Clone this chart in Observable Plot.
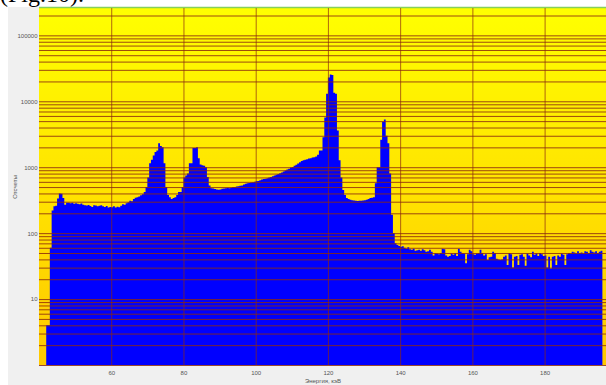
<!DOCTYPE html>
<html>
<head>
<meta charset="utf-8">
<script src="https://cdn.jsdelivr.net/npm/d3@7"></script>
<script src="https://cdn.jsdelivr.net/npm/@observablehq/plot@0.6"></script>
<style>
  html, body { margin: 0; padding: 0; background: #ffffff; width: 606px; height: 385px; overflow: hidden; position: relative; }
  #fig { position: absolute; left: 0; top: -18px; font-family: "Liberation Serif", "Times New Roman", serif; font-size: 24px; line-height: 24px; color: #000; white-space: nowrap; }
  #panel { position: absolute; left: 8px; top: 7px; right: 0; bottom: 0; background: #f0f0f0; }
  #chart { position: absolute; left: 0; top: 0; }
</style>
</head>
<body>
<div id="fig">(Fig.10).</div>
<div id="panel"></div>
<div id="chart"></div>
<script>
// Spectrum: counts per 0.5 keV channel, first channel starts at 42.0 keV
const binStart = 42.0;
const binWidth = 0.5;
const counts = [
  4, 4, 60, 220, 255, 260, 335, 400, 395, 340, 270, 290, 290, 285, 290, 280,
  285, 280, 275, 282, 270, 265, 262, 268, 258, 250, 265, 262, 255, 260, 265, 255,
  250, 258, 245, 250, 248, 255, 245, 252, 248, 260, 275, 270, 285, 295, 310, 305,
  330, 345, 350, 360, 375, 390, 420, 500, 700, 1150, 1300, 1500, 1700, 1800, 2300, 2100,
  2000, 1150, 500, 380, 350, 330, 340, 350, 380, 420, 420, 500, 700, 750, 800, 1150,
  1150, 1950, 1950, 2000, 1370, 1100, 1070, 1050, 1000, 710, 530, 480, 475, 468, 460, 455,
  460, 470, 475, 480, 485, 480, 490, 500, 500, 510, 515, 525, 530, 545, 560, 570,
  575, 585, 590, 600, 610, 620, 635, 650, 660, 670, 680, 700, 710, 730, 750, 770,
  790, 810, 830, 860, 890, 920, 950, 990, 1010, 1050, 1090, 1140, 1190, 1240, 1270, 1300,
  1320, 1350, 1370, 1400, 1420, 1460, 1550, 1800, 1800, 2850, 5700, 13000, 23000, 25500, 25000, 13500,
  13000, 3600, 1270, 700, 450, 380, 340, 330, 320, 315, 312, 310, 308, 310, 310, 312,
  315, 320, 330, 340, 345, 350, 570, 1000, 1000, 2600, 4900, 5300, 3000, 2300, 800, 190,
  100, 70, 66, 64, 62, 63, 60, 58, 61, 57, 56, 58, 54, 55, 56, 54,
  57, 55, 52, 53, 56, 52, 46, 50, 49, 48, 50, 58, 57, 46, 44, 45,
  49, 47, 50, 45, 58, 52, 50, 49, 35, 48, 56, 53, 48, 47, 49, 50,
  56, 50, 46, 48, 39, 43, 44, 52, 50, 41, 40, 39, 40, 44, 46, 33,
  50, 48, 30, 44, 45, 33, 47, 48, 44, 32, 49, 46, 43, 52, 47, 49,
  45, 50, 48, 45, 46, 30, 44, 29, 44, 45, 33, 46, 44, 49, 47, 33,
  48, 50, 49, 52, 51, 49, 53, 50, 51, 49, 53, 52, 50, 55, 52, 51,
  53, 50, 52, 54
];
const xTicks = [60, 80, 100, 120, 140, 160, 180];
const yTickLabels = [10, 100, 1000, 10000, 100000];
const xDomain = [40, 197];
const yDomain = [1, 2.6e5];

// step data (one point per channel start, plus the closing edge of the last channel)
const data = counts.map((v, i) => ({e: binStart + i * binWidth, v}));
data.push({e: binStart + counts.length * binWidth, v: counts[counts.length - 1]});

// horizontal grid at every 1..9 x 10^k inside the domain
const gridY = [];
for (let k = 0; k <= 5; k++) for (let n = 1; n <= 9; n++) {
  const g = n * Math.pow(10, k);
  if (g >= yDomain[0] && g <= yDomain[1]) gridY.push(g);
}

// background: vertical yellow gradient + thin green top border
function background(index, scales, values, dims) {
  const ns = "http://www.w3.org/2000/svg";
  const g = document.createElementNS(ns, "g");
  const defs = document.createElementNS(ns, "defs");
  const lg = document.createElementNS(ns, "linearGradient");
  lg.setAttribute("id", "bgGrad");
  lg.setAttribute("x1", "0"); lg.setAttribute("y1", "0");
  lg.setAttribute("x2", "0"); lg.setAttribute("y2", "1");
  [["0%", "#ffff00"], ["100%", "#ffc800"]].forEach(([o, c]) => {
    const s = document.createElementNS(ns, "stop");
    s.setAttribute("offset", o); s.setAttribute("stop-color", c);
    lg.appendChild(s);
  });
  defs.appendChild(lg);
  g.appendChild(defs);
  const r = document.createElementNS(ns, "rect");
  r.setAttribute("x", dims.marginLeft);
  r.setAttribute("y", dims.marginTop);
  r.setAttribute("width", dims.width - dims.marginLeft - dims.marginRight);
  r.setAttribute("height", dims.height - dims.marginTop - dims.marginBottom);
  r.setAttribute("fill", "url(#bgGrad)");
  g.appendChild(r);
  const l = document.createElementNS(ns, "line");
  l.setAttribute("x1", dims.marginLeft);
  l.setAttribute("x2", dims.width - dims.marginRight);
  l.setAttribute("y1", dims.marginTop - 0.5);
  l.setAttribute("y2", dims.marginTop - 0.5);
  l.setAttribute("stroke", "#86d05a");
  l.setAttribute("stroke-width", 1.5);
  g.appendChild(l);
  return g;
}

const gridColor = "#8b2a10";

const chart = Plot.plot({
  width: 606,
  height: 385,
  marginLeft: 39,
  marginRight: 0,
  marginTop: 8,
  marginBottom: 20,
  style: {background: "transparent", fontFamily: "'Liberation Sans', Arial, sans-serif", fontSize: "6px", color: "#555"},
  x: {domain: xDomain},
  y: {type: "log", domain: yDomain},
  marks: [
    background,
    Plot.areaY(data, {x: "e", y1: yDomain[0], y2: "v", curve: "step-after", fill: "#0000ff"}),
    Plot.ruleY(gridY, {stroke: gridColor, strokeOpacity: 0.85, strokeWidth: 1}),
    Plot.ruleX(xTicks, {stroke: gridColor, strokeOpacity: 0.7, strokeWidth: 1}),
    Plot.axisY(yTickLabels, {tickSize: 0, tickPadding: 2, tickFormat: d => String(d),
      label: "Отсчеты", labelAnchor: "center", labelOffset: 27, labelArrow: "none", fill: "#555"}),
    Plot.axisX(xTicks, {tickSize: 0, tickPadding: 5, tickFormat: d => String(d),
      label: "Энергия, кэВ", labelAnchor: "center", labelOffset: 17, labelArrow: "none", fill: "#555"})
  ]
});
document.getElementById("chart").appendChild(chart);
</script>
</body>
</html>
